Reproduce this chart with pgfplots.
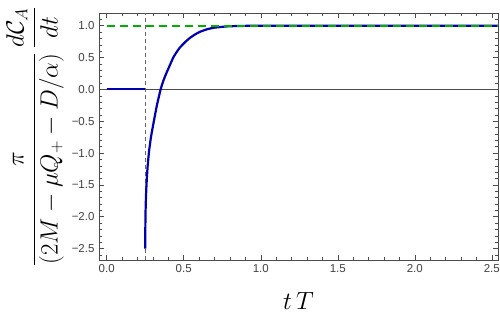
\documentclass[border=0pt]{standalone}
\usepackage{amsmath}
\usepackage{fontspec}
\newfontfamily\tickfont{Liberation Sans}
\usepackage{pgfplots}
\pgfplotsset{compat=1.18}
\definecolor{mblue}{RGB}{0,0,175}
\definecolor{mgreen}{RGB}{0,175,0}
\definecolor{frame}{gray}{0.3}
\begin{document}
\begin{tikzpicture}
\begin{axis}[
  scale only axis,
  width=399pt, height=247pt,
  xmin=-0.05, xmax=2.54,
  ymin=-2.68, ymax=1.20,
  axis line style={frame, line width=0.6pt},
  tick style={frame, line width=0.5pt},
  tick align=inside,
  major tick length=5pt, minor tick length=3pt,
  xtick={0,0.5,1,1.5,2,2.5},
  xticklabels={0.0,0.5,1.0,1.5,2.0,2.5},
  minor xtick={0.1,0.2,0.3,0.4,0.6,0.7,0.8,0.9,1.1,1.2,1.3,1.4,1.6,1.7,1.8,1.9,2.1,2.2,2.3,2.4},
  ytick={-2.5,-2,-1.5,-1,-0.5,0,0.5,1},
  yticklabels={−2.5,−2.0,−1.5,−1.0,−0.5,0.0,0.5,1.0},
  minor ytick={-2.6,-2.4,-2.3,-2.2,-2.1,-1.9,-1.8,-1.7,-1.6,-1.4,-1.3,-1.2,-1.1,-0.9,-0.8,-0.7,-0.6,-0.4,-0.3,-0.2,-0.1,0.1,0.2,0.3,0.4,0.6,0.7,0.8,0.9,1.1},
  tick label style={font=\tickfont\fontsize{11.5}{13}\selectfont, text=black!75},
  xticklabel style={yshift=-1pt},
  yticklabel style={xshift=-1pt},
  xlabel={$t\,T$},
  ylabel={$\dfrac{\pi}{(2M-\mu Q_{+}-D/\alpha)}\,\dfrac{d\mathcal{C}_A}{dt}$},
  xlabel style={font=\fontsize{25}{30}\selectfont, at={(axis description cs:0.5,-0.166)}, anchor=center},
  ylabel style={font=\fontsize{24}{29}\selectfont, at={(axis description cs:-0.16,0.50)}, anchor=center},
]
\addplot[black!70, line width=0.5pt, forget plot] coordinates {(-0.05,0) (2.54,0)};
\addplot[black!60, line width=0.6pt, dash pattern=on 4pt off 3pt] coordinates {(0.25,-2.68) (0.25,1.20)};
\addplot[mblue, line width=2.2pt] coordinates {(0,0) (0.25,0)};
\addplot[mblue, line width=2.2pt, smooth, tension=0.3] coordinates {
(0.250,-2.50) (0.2505,-2.25) (0.252,-1.95) (0.255,-1.68) (0.260,-1.42)
(0.266,-1.20) (0.275,-0.97) (0.288,-0.74) (0.303,-0.54) (0.325,-0.26)
(0.350,0.00) (0.370,0.15) (0.39,0.27) (0.41,0.38) (0.432,0.50)
(0.455,0.59) (0.476,0.66) (0.51,0.745) (0.541,0.81) (0.575,0.865)
(0.606,0.905) (0.65,0.943) (0.692,0.967) (0.75,0.983) (0.8,0.992)
(0.9,0.998) (1.0,1.0) (1.5,1.0) (2.0,1.0) (2.54,1.0)};
\addplot[mgreen, line width=2pt, dash pattern=on 8pt off 5pt] coordinates {(0,1) (2.54,1)};
\end{axis}
\pgfresetboundingbox
\path (current axis.south west) ++(-99pt,-62pt) rectangle ++(500pt,322pt);
\end{tikzpicture}
\end{document}
